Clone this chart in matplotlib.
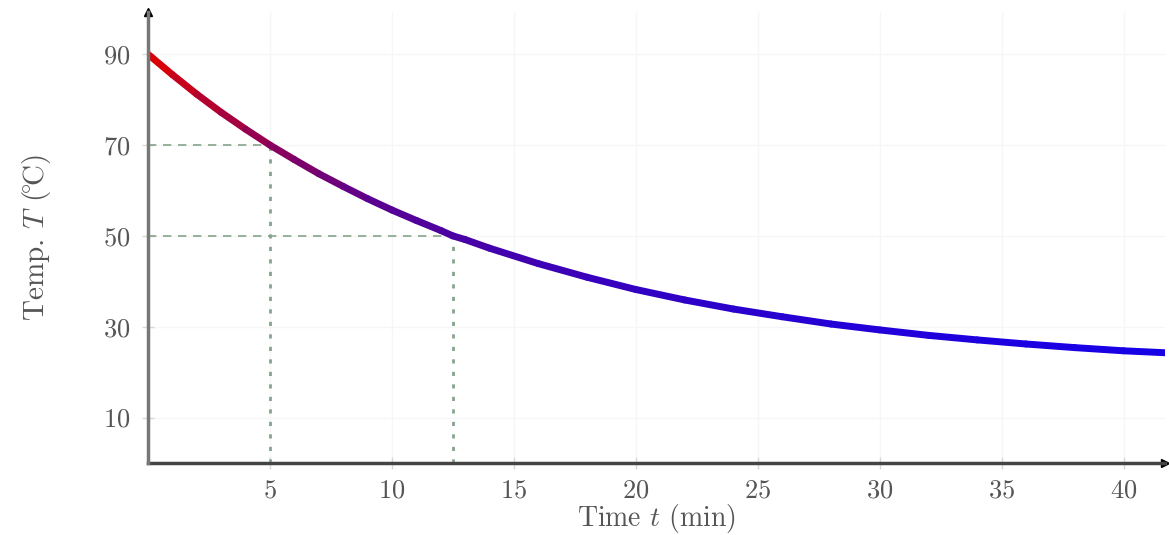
import numpy as np
import matplotlib.pyplot as plt
from matplotlib.collections import LineCollection
from matplotlib.colors import LinearSegmentedColormap

# cooling curve values
time_min = [0, 1, 2, 3, 4, 5, 6, 7, 8, 9, 10, 11, 12, 12.5, 13, 14, 16, 18, 20,
            22, 24, 26, 28, 30, 32, 34, 36, 38, 40, 42]
temp_c = [90.0, 85.5, 81.2, 77.2, 73.5, 70.0, 66.8, 63.7, 60.9, 58.2, 55.7, 53.4,
          51.2, 50.0, 49.2, 47.3, 43.9, 40.9, 38.2, 35.9, 33.9, 32.2, 30.6, 29.3,
          28.1, 27.1, 26.2, 25.4, 24.7, 24.2]

# guide points
guide_t = [5, 12.5]
guide_T = [70, 50]

x_ticks = [5, 10, 15, 20, 25, 30, 35, 40]
y_ticks = [10, 30, 50, 70, 90]

plt.rcParams['font.family'] = ['cmr10', 'DejaVu Serif']
plt.rcParams['mathtext.fontset'] = 'cm'
plt.rcParams['axes.formatter.use_mathtext'] = True

fig = plt.figure(figsize=(11.69, 5.35), dpi=100)
ax = fig.add_axes([0.1266, 0.1346, 0.87, 0.843])

ax.set_xlim(0, 41.7)
ax.set_ylim(0, 99.3)

# very faint grid
ax.set_xticks(x_ticks)
ax.set_yticks(y_ticks)
ax.grid(True, color='#f6f6f6', linewidth=1.0)
ax.set_axisbelow(True)

# guide lines
for t, T in zip(guide_t, guide_T):
    ax.plot([0, t], [T, T], color='#86a48c', linestyle=(0, (5, 4)), linewidth=1.2)
    ax.plot([t, t], [0, T], color='#86a48c', linestyle=(0, (1.5, 3)), linewidth=2.0)

# gradient coloured curve (red -> blue with temperature)
tt = np.array(time_min)
TT = np.array(temp_c)
pts = np.column_stack([tt, TT]).reshape(-1, 1, 2)
segs = np.concatenate([pts[:-1], pts[1:]], axis=1)
cmap = LinearSegmentedColormap.from_list('cool', ['#1800e6', '#5a0090', '#e00000'])
mid = (TT[:-1] + TT[1:]) / 2
colors = cmap((mid - TT.min()) / (TT.max() - TT.min()))
lc = LineCollection(segs, colors=colors, linewidth=5, capstyle='round', zorder=3)
ax.add_collection(lc)

# axes styling
for side in ['top', 'right']:
    ax.spines[side].set_visible(False)
ax.spines['left'].set_color('#777777')
ax.spines['left'].set_linewidth(2.5)
ax.spines['bottom'].set_color('#444444')
ax.spines['bottom'].set_linewidth(2.5)
ax.spines['left'].set_zorder(4)

ax.plot(0, 1, marker='^', color='black', markersize=6, transform=ax.transAxes, clip_on=False)
ax.plot(1, 0, marker='>', color='black', markersize=6, transform=ax.transAxes, clip_on=False)

ax.tick_params(direction='inout', length=8, width=1, color='#d8d8d8',
               labelsize=19, labelcolor='#555555')
ax.tick_params(axis='x', pad=7)
ax.tick_params(axis='y', pad=9)

ax.set_xlabel('Time $t$ (min)', fontsize=20, color='#555555', labelpad=0)
ax.set_ylabel(r'Temp. $T$ $(\!^{\circ}\!\mathrm{C})$', fontsize=21, color='#555555', labelpad=36)

plt.savefig('out.png', dpi=100)
